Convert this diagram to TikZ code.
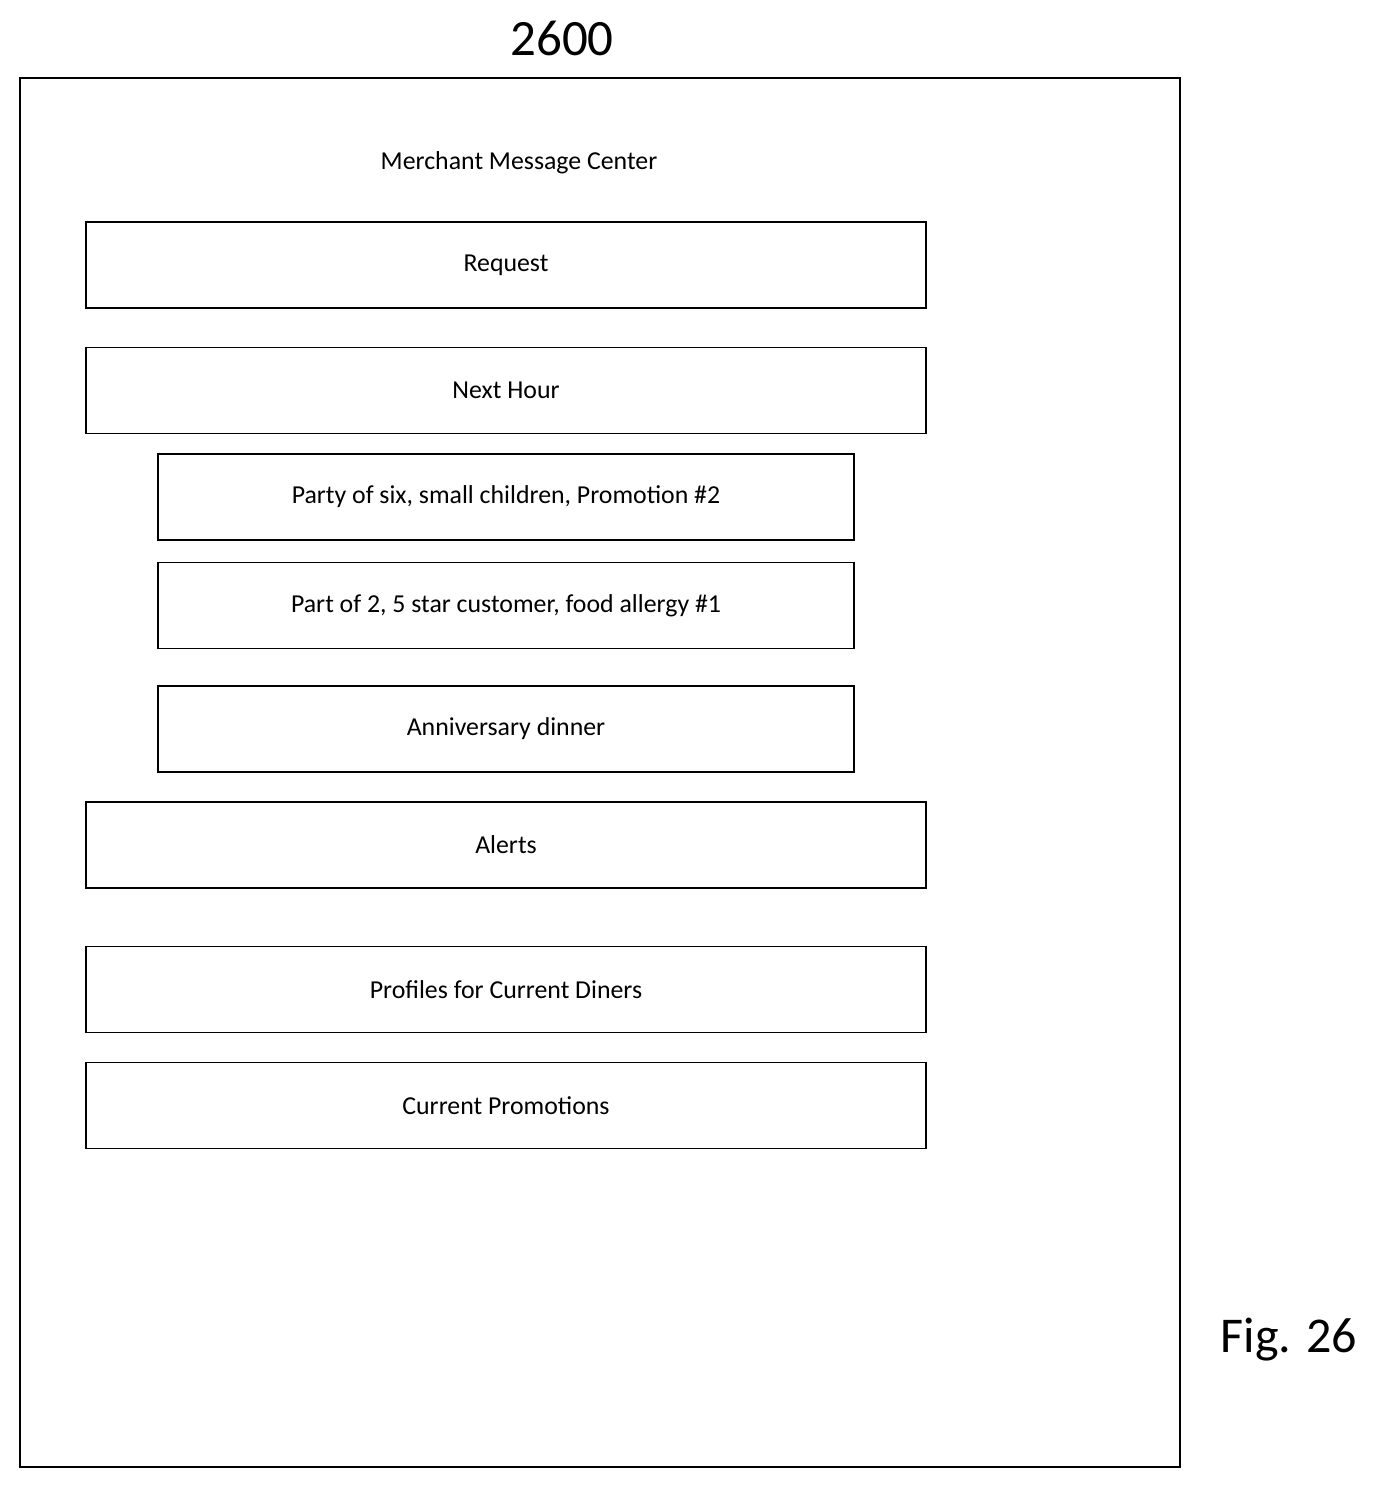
\documentclass[tikz,border=0pt]{standalone}
\usepackage{fontspec}
\setmainfont{Carlito}
\begin{document}
\begin{tikzpicture}[x=0.02cm,y=-0.02cm,
 box/.style={draw,line width=1pt,minimum height=1.72cm,inner sep=0pt,font=\fontsize{14.7}{17}\selectfont},
 wide/.style={box,minimum width=16.8cm},
 narrow/.style={box,minimum width=13.92cm}]
\useasboundingbox (0,0) rectangle (1375,1489);
\node[draw,line width=1pt,minimum width=23.2cm,minimum height=27.78cm,inner sep=0pt] (frame) at (600,772.5) {};
\node[font=\fontsize{29}{33}\selectfont] (title) at (562,38) {2600};
\node[font=\fontsize{28.5}{33}\selectfont] (fig) at (1289,1340) {Fig. 26};
\node[font=\fontsize{14.7}{17}\selectfont] (mmc) at (519,163) {Merchant Message Center};
\node[wide] (req) at (506,265) {Request};
\node[wide] (nh) at (506,390.5) {Next Hour};
\node[narrow] (p6) at (506,497) {Party of six, small children, Promotion \#2};
\node[narrow] (p2) at (506,605.5) {Part of 2, 5 star customer, food allergy \#1};
\node[narrow] (ann) at (506,729) {Anniversary dinner};
\node[wide] (al) at (506,845) {Alerts};
\node[wide] (prof) at (506,989.5) {Profiles for Current Diners};
\node[wide] (cp) at (506,1105.5) {Current Promotions};
\end{tikzpicture}
\end{document}
